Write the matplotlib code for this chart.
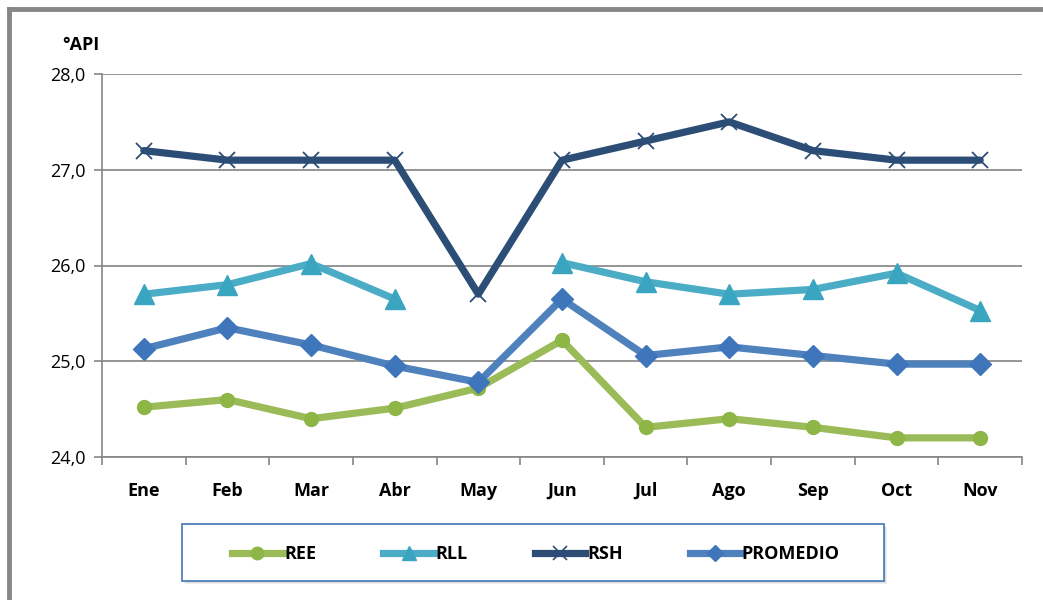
import matplotlib
matplotlib.use("Agg")
import matplotlib.pyplot as plt
from matplotlib.lines import Line2D
from matplotlib.patches import Rectangle
import numpy as np

plt.rcParams['font.family'] = ['Open Sans', 'DejaVu Sans']

months = ["Ene", "Feb", "Mar", "Abr", "May", "Jun", "Jul", "Ago", "Sep", "Oct", "Nov"]
ree = [24.52, 24.6, 24.4, 24.51, 24.72, 25.22, 24.31, 24.4, 24.31, 24.2, 24.2]
rll = [25.7, 25.8, 26.02, 25.65, np.nan, 26.03, 25.83, 25.7, 25.75, 25.92, 25.53]
rsh = [27.2, 27.1, 27.1, 27.1, 25.7, 27.1, 27.3, 27.5, 27.2, 27.1, 27.1]
promedio = [25.13, 25.35, 25.17, 24.95, 24.78, 25.65, 25.06, 25.15, 25.06, 24.97, 24.97]
yticks = [24.0, 25.0, 26.0, 27.0, 28.0]
ytick_labels = ["24,0", "25,0", "26,0", "27,0", "28,0"]

fig = plt.figure(figsize=(10.43, 6.0), dpi=100)
ax = fig.add_axes([102/1043, 1-457/600, (1022-102)/1043, (457-74)/600])

x = np.arange(len(months))
c_ree, c_rll, c_rsh, c_pro = "#9BBB59", "#4BACC6", "#2C4D75", "#4F81BD"
lw = 5.2
ax.plot(x, ree, color=c_ree, lw=lw, marker="o", ms=10, mfc="#8DB646", mec="#8DB646", zorder=3, solid_capstyle="round")
ax.plot(x, rll, color=c_rll, lw=lw, marker="^", ms=14, mfc="#3AA5C0", mec="#3AA5C0", zorder=3, solid_capstyle="round")
ax.plot(x, rsh, color=c_rsh, lw=lw, marker="x", ms=12, mew=1.3, mec=c_rsh, zorder=4, solid_capstyle="round")
ax.plot(x, promedio, color=c_pro, lw=lw, marker="D", ms=11, mfc="#3F75BB", mec="#3F75BB", zorder=3, solid_capstyle="round")

ax.set_xlim(-0.5, len(months) - 0.5)
ax.set_ylim(24.0, 28.0)
ax.set_yticks(yticks)
ax.set_yticklabels(ytick_labels, fontsize=13)
ax.set_xticks(x)
ax.set_xticklabels(months, fontsize=13, fontweight="bold")
ax.set_xticks(np.arange(-0.5, len(months)), minor=True)
ax.tick_params(axis="x", which="major", length=0, pad=18)
ax.tick_params(axis="x", which="minor", length=6, color="#868686", width=1.2, direction="out")
ax.tick_params(axis="y", length=6, color="#868686", width=1.2, direction="out", pad=6)
ax.yaxis.grid(True, color="#8C8C8C", lw=1.3)
ax.set_axisbelow(True)
for s in ["top", "right"]:
    ax.spines[s].set_visible(False)
for s in ["left", "bottom"]:
    ax.spines[s].set_color("#868686")
    ax.spines[s].set_linewidth(1.2)

fig.text(62/1043, 1-45/600, "°API", fontsize=13, fontweight="bold", va="center", ha="left")

# outer frame (grey)
fig.add_artist(Line2D([9/1043, 1.0], [1-9/600, 1-9/600], transform=fig.transFigure, color="#878787", lw=3.5))
fig.add_artist(Line2D([9/1043, 9/1043], [0, 1-9/600], transform=fig.transFigure, color="#878787", lw=3.5))

# legend box with soft shadow
W, H = 1043, 600
for i, a in enumerate([0.10, 0.08, 0.06]):
    off = 1 + i
    fig.add_artist(Rectangle(((182 + off)/W, 1-(581 + off)/H), 702/W, 57/H, transform=fig.transFigure,
                             facecolor="black", edgecolor="none", alpha=a, zorder=1))
fig.add_artist(Rectangle((182/W, 1-581/H), 702/W, 57/H, transform=fig.transFigure,
                         facecolor="white", edgecolor="#4F81BD", lw=1.3, zorder=2))

handles = [
    Line2D([], [], color=c_ree, lw=lw, marker="o", ms=9, mfc="#8DB646", mec="#8DB646"),
    Line2D([], [], color=c_rll, lw=lw, marker="^", ms=10, mfc="#3AA5C0", mec="#3AA5C0"),
    Line2D([], [], color=c_rsh, lw=lw, marker="x", ms=10, mew=1.2, mec=c_rsh),
    Line2D([], [], color=c_pro, lw=lw, marker="D", ms=8, mfc="#3F75BB", mec="#3F75BB"),
]
leg = fig.legend(handles, ["REE", "RLL", "RSH", "PROMEDIO"], loc="center",
                 bbox_to_anchor=(536/W, 1-554/H), ncol=4, frameon=False,
                 prop={"weight": "bold", "size": 13}, handlelength=2.8,
                 handletextpad=0.1, columnspacing=3.7, borderpad=0, borderaxespad=0)
leg.set_zorder(3)

fig.savefig("out.png", dpi=100)
